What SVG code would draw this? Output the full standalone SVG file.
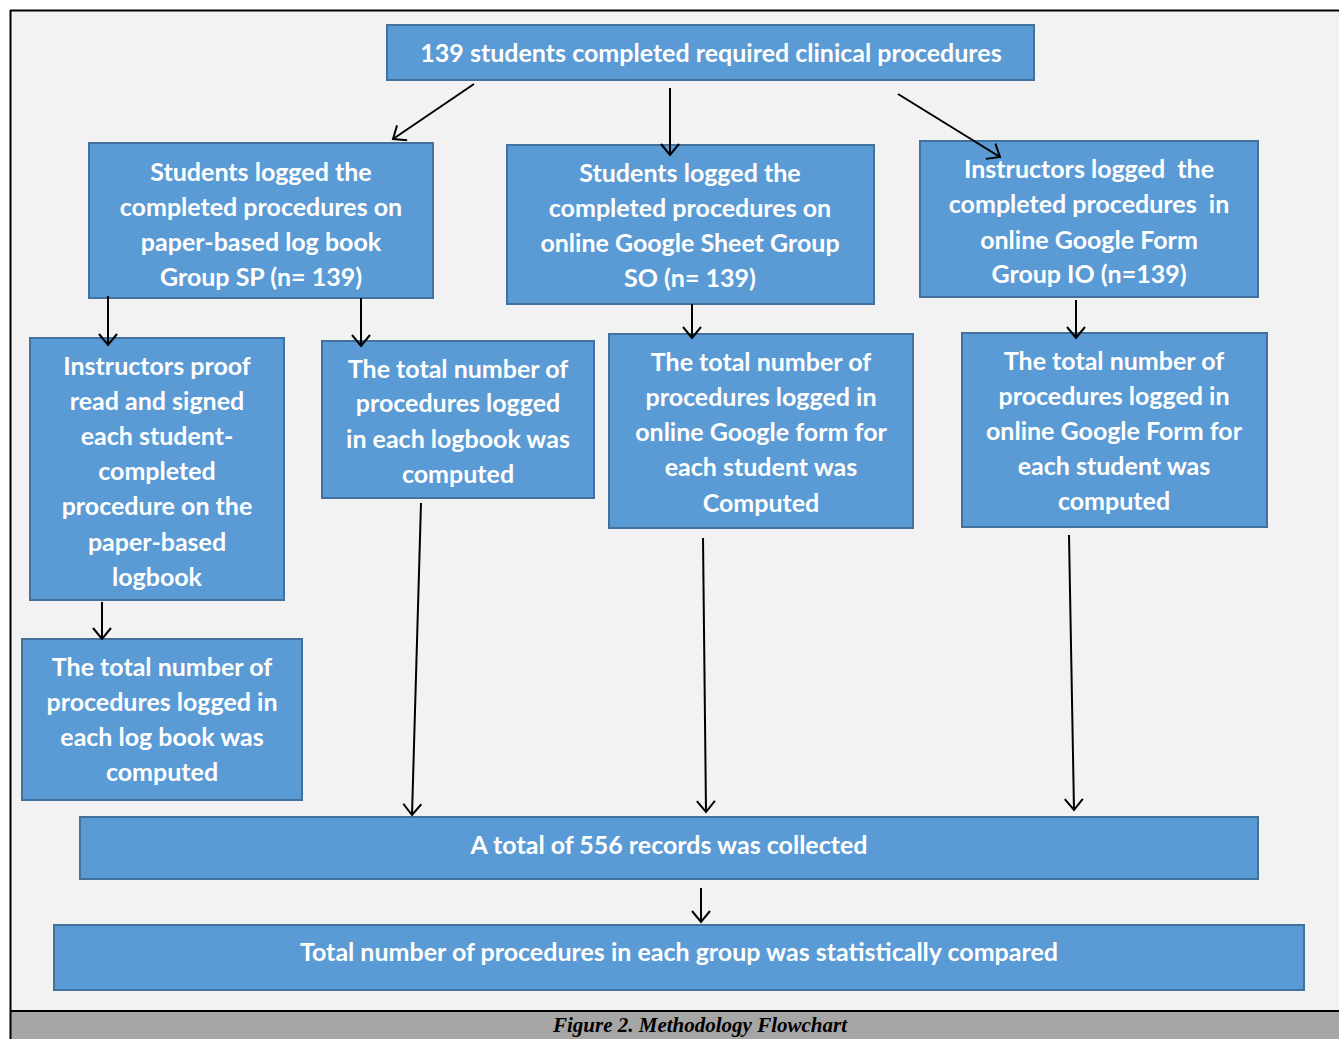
<svg xmlns="http://www.w3.org/2000/svg" width="1339" height="1039" viewBox="0 0 1339 1039">
<defs>
<style>
.bx{fill:#5b9bd5;stroke:#41719c;stroke-width:2}
.t{font-family:Lato,"Open Sans",sans-serif;font-weight:bold;font-size:25px;fill:#ffffff;text-anchor:middle}
.c{stroke:#000;stroke-width:2;fill:none;marker-end:url(#ah)}
</style>
<marker id="ah" markerWidth="24" markerHeight="24" refX="12" refY="12" orient="auto" markerUnits="userSpaceOnUse">
<path d="M1,3 L12,12 L1,21" fill="none" stroke="#000" stroke-width="2"/>
</marker>
</defs>
<rect x="0" y="0" width="1339" height="1039" fill="#ffffff"/>
<rect x="10" y="10" width="1329" height="1001" fill="#f2f2f2"/>
<rect x="10" y="1011" width="1329" height="28" fill="#a6a6a6"/>
<line x1="10" y1="10.5" x2="1339" y2="10.5" stroke="#000" stroke-width="2"/>
<line x1="10" y1="1011" x2="1339" y2="1011" stroke="#000" stroke-width="2"/>
<line x1="10.5" y1="10" x2="10.5" y2="1039" stroke="#000" stroke-width="2"/>
<text x="700" y="1032" font-family="Liberation Serif,serif" font-weight="bold" font-style="italic" font-size="21" fill="#000" text-anchor="middle">Figure 2. Methodology Flowchart</text>

<g id="n1"><rect class="bx" x="387" y="25" width="647" height="55"/>
<text class="t" x="711" y="62">139 students completed required clinical procedures</text></g>

<g id="n2"><rect class="bx" x="89" y="143" width="344" height="155"/>
<text class="t" x="261" y="181">Students logged the</text>
<text class="t" x="261" y="216">completed procedures on</text>
<text class="t" x="261" y="251">paper-based log book</text>
<text class="t" x="261" y="286">Group SP (n= 139)</text></g>

<g id="n3"><rect class="bx" x="507" y="145" width="367" height="159"/>
<text class="t" x="690" y="182">Students logged the</text>
<text class="t" x="690" y="217">completed procedures on</text>
<text class="t" x="690" y="252">online Google Sheet Group</text>
<text class="t" x="690" y="287">SO (n= 139)</text></g>

<g id="n4"><rect class="bx" x="920" y="141" width="338" height="156"/>
<text class="t" x="1089" y="178" xml:space="preserve">Instructors logged  the</text>
<text class="t" x="1089" y="213" xml:space="preserve">completed procedures  in</text>
<text class="t" x="1089" y="249">online Google Form</text>
<text class="t" x="1089" y="283">Group IO (n=139)</text></g>

<g id="n5"><rect class="bx" x="30" y="338" width="254" height="262"/>
<text class="t" x="157" y="375">Instructors proof</text>
<text class="t" x="157" y="410">read and signed</text>
<text class="t" x="157" y="445">each student-</text>
<text class="t" x="157" y="480">completed</text>
<text class="t" x="157" y="515">procedure on the</text>
<text class="t" x="157" y="551">paper-based</text>
<text class="t" x="157" y="586">logbook</text></g>

<g id="n6"><rect class="bx" x="322" y="341" width="272" height="157"/>
<text class="t" x="458" y="378">The total number of</text>
<text class="t" x="458" y="412">procedures logged</text>
<text class="t" x="458" y="448">in each logbook was</text>
<text class="t" x="458" y="483">computed</text></g>

<g id="n7"><rect class="bx" x="609" y="334" width="304" height="194"/>
<text class="t" x="761" y="371">The total number of</text>
<text class="t" x="761" y="406">procedures logged in</text>
<text class="t" x="761" y="441">online Google form for</text>
<text class="t" x="761" y="476">each student was</text>
<text class="t" x="761" y="512">Computed</text></g>

<g id="n8"><rect class="bx" x="962" y="333" width="305" height="194"/>
<text class="t" x="1114" y="370">The total number of</text>
<text class="t" x="1114" y="405">procedures logged in</text>
<text class="t" x="1114" y="440">online Google Form for</text>
<text class="t" x="1114" y="475">each student was</text>
<text class="t" x="1114" y="510">computed</text></g>

<g id="n9"><rect class="bx" x="22" y="639" width="280" height="161"/>
<text class="t" x="162" y="676">The total number of</text>
<text class="t" x="162" y="711">procedures logged in</text>
<text class="t" x="162" y="746">each log book was</text>
<text class="t" x="162" y="781">computed</text></g>

<g id="n10"><rect class="bx" x="80" y="817" width="1178" height="62"/>
<text class="t" x="669" y="854">A total of 556 records was collected</text></g>

<g id="n11"><rect class="bx" x="54" y="925" width="1250" height="65"/>
<text class="t" x="679" y="961">Total number of procedures in each group was statistically compared</text></g>

<g id="connectors">
<line class="c" x1="474" y1="84" x2="393" y2="139"/>
<line class="c" x1="670" y1="88" x2="670" y2="155"/>
<line class="c" x1="898" y1="94" x2="1000" y2="157"/>
<line class="c" x1="108" y1="296" x2="108" y2="345"/>
<line class="c" x1="361" y1="298" x2="361" y2="346"/>
<line class="c" x1="692" y1="304" x2="692" y2="338"/>
<line class="c" x1="1076" y1="300" x2="1076" y2="338"/>
<line class="c" x1="102" y1="602" x2="102" y2="639"/>
<line class="c" x1="421" y1="503" x2="412" y2="815"/>
<line class="c" x1="703" y1="538" x2="706" y2="812"/>
<line class="c" x1="1069" y1="535" x2="1074" y2="810"/>
<line class="c" x1="701" y1="888" x2="701" y2="922"/>
</g>
</svg>
